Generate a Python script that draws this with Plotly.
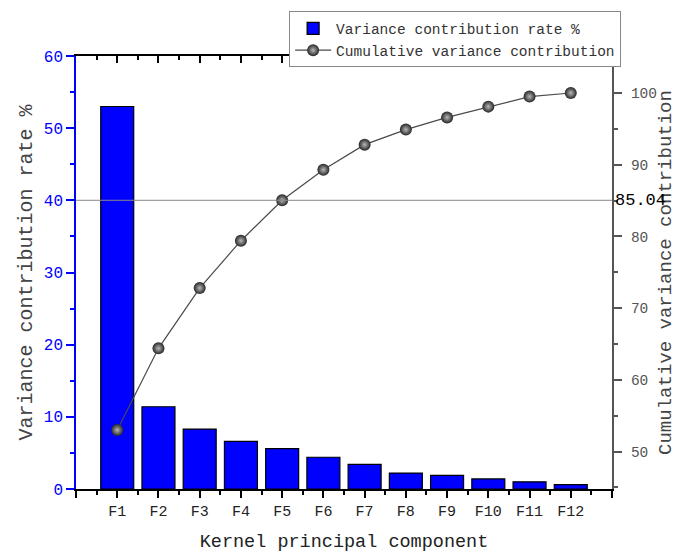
import plotly.graph_objects as go

categories = ["F1", "F2", "F3", "F4", "F5", "F6", "F7", "F8", "F9", "F10", "F11", "F12"]
variance_rate = [53.0, 11.4, 8.3, 6.6, 5.6, 4.4, 3.4, 2.2, 1.9, 1.4, 1.0, 0.6]
cumulative = [53.0, 64.4, 72.8, 79.4, 85.04, 89.3, 92.8, 94.9, 96.6, 98.1, 99.5, 100.0]
threshold = 85.04
threshold_label = "85.04"

FONT = "Liberation Mono"
x_idx = list(range(len(categories)))
tick_idx = list(range(-1, len(categories) + 1))
tick_txt = [""] + categories + [""]

fig = go.Figure()

fig.add_trace(go.Bar(
    x=x_idx, y=variance_rate, name="Variance contribution rate %",
    marker=dict(color="#0000FF", line=dict(color="#000000", width=1.2)),
    width=0.8, xaxis="x", yaxis="y",
))
fig.add_trace(go.Scatter(
    x=x_idx, y=cumulative, name="Cumulative variance contribution",
    mode="lines+markers",
    line=dict(color="#4a4a4a", width=1.2),
    marker=dict(size=12, color="#262626",
                gradient=dict(type="radial", color="#b8b8b8"),
                line=dict(width=0)),
    xaxis="x", yaxis="y2",
))
# invisible helper trace to attach the mirrored top axis
fig.add_trace(go.Scatter(
    x=x_idx, y=[None] * len(x_idx), xaxis="x2", yaxis="y",
    showlegend=False, hoverinfo="skip", mode="markers",
))

fig.add_shape(type="line", xref="x domain", x0=0, x1=1, yref="y2",
              y0=threshold, y1=threshold, line=dict(color="#888888", width=1),
              layer="above")
fig.add_annotation(x=1, xref="x domain", y=threshold, yref="y2",
                   text=threshold_label, showarrow=False, xanchor="left",
                   xshift=1, font=dict(family=FONT, size=17, color="#000000"))

xrange = [-1, len(categories)]

fig.update_layout(
    width=677, height=554,
    margin=dict(l=76, r=65, t=56, b=65, autoexpand=False),
    paper_bgcolor="white", plot_bgcolor="white",
    font=dict(family=FONT, color="#222222"),
    showlegend=True,
    legend=dict(
        x=1.017, xanchor="right", y=1.103, yanchor="top",
        bgcolor="white", bordercolor="#888888", borderwidth=1,
        font=dict(family=FONT, size=14.5, color="#333333"),
        tracegroupgap=0, itemwidth=36,
    ),
    xaxis=dict(
        range=xrange, tickmode="array", tickvals=tick_idx, ticktext=tick_txt,
        showgrid=False, zeroline=False, automargin=False,
        showline=True, linecolor="#000000", linewidth=2,
        ticks="outside", ticklen=7, tickwidth=1.5, tickcolor="#000000",
        tickfont=dict(family=FONT, size=15, color="#222222"),
        minor=dict(tickmode="linear", tick0=-0.5, dtick=1, ticks="outside",
                   ticklen=4, tickwidth=1.5, tickcolor="#000000"),
        title=dict(text="Kernel principal component",
                   font=dict(family=FONT, size=18.5, color="#222222"), standoff=14),
    ),
    xaxis2=dict(
        overlaying="x", side="top", range=xrange, tickmode="array",
        tickvals=tick_idx, showticklabels=False, showgrid=False, zeroline=False,
        automargin=False,
        showline=True, linecolor="#000000", linewidth=2,
        ticks="inside", ticklen=7, tickwidth=1.5, tickcolor="#000000",
        minor=dict(tickmode="linear", tick0=-0.5, dtick=1, ticks="inside",
                   ticklen=4, tickwidth=1.5, tickcolor="#000000"),
    ),
    yaxis=dict(
        range=[0, 60], dtick=10, tick0=0, showgrid=False, zeroline=False,
        automargin=False,
        showline=True, linecolor="#0000FF", linewidth=1.5,
        ticks="outside", ticklen=8, tickwidth=1.5, tickcolor="#0000FF",
        tickfont=dict(family=FONT, size=16, color="#0000FF"),
        minor=dict(dtick=5, ticks="outside", ticklen=4, tickwidth=1.5, tickcolor="#0000FF"),
        title=dict(text="Variance contribution rate %",
                   font=dict(family=FONT, size=20, color="#444444"), standoff=6),
    ),
    yaxis2=dict(
        overlaying="y", side="right", range=[44.78, 105.16], tick0=50, dtick=10,
        showgrid=False, zeroline=False, automargin=False,
        showline=True, linecolor="#555555", linewidth=2,
        ticks="outside", ticklen=8, tickwidth=1.5, tickcolor="#555555",
        ticklabelstandoff=6,
        tickfont=dict(family=FONT, size=14.5, color="#555555"),
        minor=dict(tick0=50, dtick=5, ticks="outside", ticklen=4, tickwidth=1.5, tickcolor="#555555"),
        title=dict(text="Cumulative variance contribution",
                   font=dict(family=FONT, size=19, color="#444444"), standoff=12),
    ),
)

fig.write_html("out.html")
